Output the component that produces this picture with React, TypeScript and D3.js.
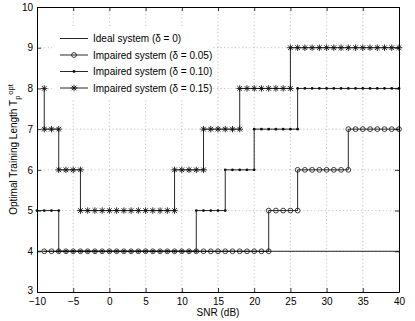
import * as d3 from 'd3';
import React, { useRef, useEffect } from 'react';

// step breakpoints (SNR, dB) and the level held between each pair
const idealBreaks = [-10, 40];
const idealLevels = [4];
const d05Breaks = [-9, 22, 26, 33, 40];
const d05Levels = [4, 5, 6, 7];
const d10Breaks = [-10, -7, 12, 16, 20, 26, 40];
const d10Levels = [5, 4, 5, 6, 7, 8];
const d15Breaks = [-9, -9, -7, -4, 9, 13, 18, 25, 40];
const d15Levels = [8, 7, 6, 5, 6, 7, 8, 9];

const legendLabels = [
    'Ideal system (δ = 0)',
    'Impaired system (δ = 0.05)',
    'Impaired system (δ = 0.10)',
    'Impaired system (δ = 0.15)',
];
const xTicks = [-10, -5, 0, 5, 10, 15, 20, 25, 30, 35, 40];
const yTicks = [3, 4, 5, 6, 7, 8, 9, 10];

const W = 415, H = 321;
const left = 37, right = 399, top = 7, bottom = 292;
const FONT = '"Liberation Sans", Arial, Helvetica, sans-serif';
const INK = '#111';

const star = 'M-3.2,0L3.2,0M0,-3.2L0,3.2M-2.3,-2.3L2.3,2.3M-2.3,2.3L2.3,-2.3';

function App() {
    const ref = useRef(null);

    useEffect(() => {
        const svg = d3.select(ref.current);
        svg.selectAll('*').remove();

        const x = d3.scaleLinear().domain([-10, 40]).range([left, right]);
        const y = d3.scaleLinear().domain([3, 10]).range([bottom, top]);

        svg.append('rect').attr('width', W).attr('height', H).attr('fill', '#fff');

        // grid
        const grid = svg.append('g')
            .attr('stroke', '#a8a8a8')
            .attr('stroke-width', 0.8)
            .attr('stroke-dasharray', '1,2.6');
        grid.selectAll('.gx').data(xTicks.slice(1, -1)).enter().append('line')
            .attr('x1', d => x(d)).attr('x2', d => x(d))
            .attr('y1', top).attr('y2', bottom);
        grid.selectAll('.gy').data(yTicks.slice(1, -1)).enter().append('line')
            .attr('y1', d => y(d)).attr('y2', d => y(d))
            .attr('x1', left).attr('x2', right);

        const line = d3.line()
            .x(d => x(d[0]))
            .y(d => y(d[1]));

        const stepPoints = (breaks, levels) => {
            const pts = [];
            levels.forEach((l, i) => {
                pts.push([breaks[i], l]);
                pts.push([breaks[i + 1], l]);
            });
            return pts;
        };
        const markerPoints = (breaks, levels) => {
            const pts = [];
            levels.forEach((l, i) => {
                d3.range(breaks[i], breaks[i + 1] + 1).forEach(s => pts.push([s, l]));
            });
            return pts;
        };

        const series = [
            { breaks: idealBreaks, levels: idealLevels, marker: 'none' },
            { breaks: d05Breaks, levels: d05Levels, marker: 'circle' },
            { breaks: d10Breaks, levels: d10Levels, marker: 'dot' },
            { breaks: d15Breaks, levels: d15Levels, marker: 'star' },
        ];

        const drawMarker = (g, kind, px, py) => {
            if (kind === 'circle') {
                g.append('circle').attr('cx', px).attr('cy', py).attr('r', 2.4)
                    .attr('fill', 'none').attr('stroke', INK).attr('stroke-width', 0.8);
            } else if (kind === 'dot') {
                g.append('circle').attr('cx', px).attr('cy', py).attr('r', 1.4)
                    .attr('fill', INK);
            } else if (kind === 'star') {
                g.append('path').attr('d', star)
                    .attr('transform', `translate(${px},${py})`)
                    .attr('fill', 'none').attr('stroke', INK).attr('stroke-width', 0.9);
            }
        };

        series.forEach(s => {
            const g = svg.append('g');
            g.append('path')
                .attr('d', line(stepPoints(s.breaks, s.levels)))
                .attr('fill', 'none')
                .attr('stroke', INK)
                .attr('stroke-width', 0.9);
            if (s.marker !== 'none') {
                markerPoints(s.breaks, s.levels).forEach(p => drawMarker(g, s.marker, x(p[0]), y(p[1])));
            }
        });

        // legend
        const lg = svg.append('g');
        lg.append('rect').attr('x', 52).attr('y', 28).attr('width', 161).attr('height', 70).attr('fill', '#fff');
        series.forEach((s, i) => {
            const ly = 38.5 + i * 16.5;
            lg.append('line').attr('x1', 60).attr('x2', 88).attr('y1', ly).attr('y2', ly)
                .attr('stroke', INK).attr('stroke-width', 0.9);
            drawMarker(lg, s.marker, 74, ly);
            lg.append('text').attr('x', 93).attr('y', ly).attr('dy', '0.35em')
                .attr('font-family', FONT).attr('font-size', 10).attr('fill', '#000')
                .text(legendLabels[i]);
        });

        // axes
        const fmt = d3.format('d');
        const styleAxis = g => {
            g.selectAll('path').attr('stroke', '#000').attr('stroke-width', 1);
            g.selectAll('line').attr('stroke', '#000').attr('stroke-width', 0.8);
            g.selectAll('text').attr('font-family', FONT).attr('font-size', 10).attr('fill', '#000');
        };
        svg.append('g').attr('transform', `translate(0,${bottom})`)
            .call(d3.axisBottom(x).tickValues(xTicks).tickFormat(fmt).tickSizeInner(-4).tickSizeOuter(0).tickPadding(6))
            .call(styleAxis);
        const yAxis = svg.append('g').attr('transform', `translate(${left},0)`)
            .call(d3.axisLeft(y).tickValues(yTicks).tickFormat(fmt).tickSizeInner(-4).tickSizeOuter(0).tickPadding(4))
            .call(styleAxis);
        // lowest label sits a touch above its tick, as in the reference
        yAxis.selectAll('.tick text').filter(d => d === 3).attr('dy', '0.1em');
        svg.append('g').attr('transform', `translate(0,${top})`)
            .call(d3.axisTop(x).tickValues(xTicks).tickFormat(() => '').tickSizeInner(-4).tickSizeOuter(0))
            .call(styleAxis);
        svg.append('g').attr('transform', `translate(${right},0)`)
            .call(d3.axisRight(y).tickValues(yTicks).tickFormat(() => '').tickSizeInner(-4).tickSizeOuter(0))
            .call(styleAxis);

        // axis titles
        svg.append('text')
            .attr('x', (left + right) / 2).attr('y', 316)
            .attr('text-anchor', 'middle')
            .attr('font-family', FONT).attr('font-size', 10)
            .text('SNR (dB)');

        const yl = svg.append('text')
            .attr('transform', `translate(17,${(top + bottom) / 2}) rotate(-90)`)
            .attr('text-anchor', 'middle')
            .attr('font-family', FONT).attr('font-size', 10);
        yl.append('tspan').text('Optimal Training Length T');
        yl.append('tspan').attr('font-size', 7.5).attr('dy', 2.5).text('p');
        yl.append('tspan').attr('font-size', 7.5).attr('dx', 1).attr('dy', -7).text('opt');
    }, []);

    return (
        <svg ref={ref} width={W} height={H} style={{ position: 'absolute', left: 0, top: 0 }} />
    );
}

export default App;
